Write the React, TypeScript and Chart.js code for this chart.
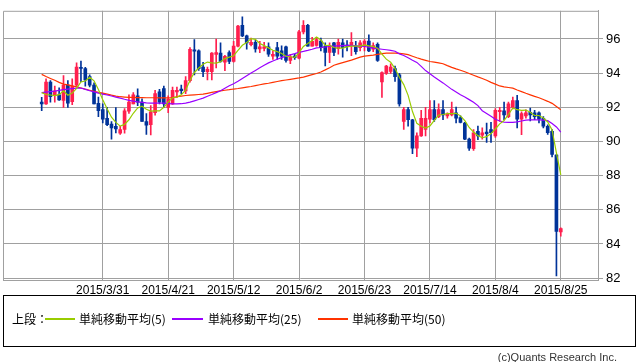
import React, { useEffect, useRef } from 'react';
import { Chart, registerables } from 'chart.js';

Chart.register(...registerables);

// x-axis tick labels and the candle index they sit on
const dateLabels = ['2015/3/31', '2015/4/21', '2015/5/12', '2015/6/2', '2015/6/23', '2015/7/14', '2015/8/4', '2015/8/25'];
const dateLabelIndex = [14, 29, 44, 59, 74, 89, 104, 119];
const yTicks = [82, 84, 86, 88, 90, 92, 94, 96];

// daily candles (2015/3/11 .. 2015/8/25, weekdays)
const open = [
  92.3, 92.2, 93.48, 92.73, 92.73, 92.4, 93.3, 92.33, 93.29, 94.34,
  94.27, 93.8, 93.3, 92.24, 91.86, 91.36, 91.02, 90.89, 90.48, 90.7,
  91.77, 92.2, 92.67, 92.3, 91.17, 90.98, 91.68, 92.9, 93.1, 92.0,
  92.2, 92.9, 93.07, 92.96, 93.56, 95.36, 95.3, 94.36, 94.08, 94.08,
  95.1, 95.17, 94.64, 95.2, 94.68, 95.58, 96.8, 96.18, 95.67, 95.8,
  95.42, 95.45, 95.54, 95.0, 95.5, 95.3, 95.54, 94.75, 95.0, 94.87,
  96.42, 96.8, 95.58, 95.62, 95.87, 95.58, 95.21, 95.77, 95.43, 95.77,
  95.64, 95.62, 95.58, 95.49, 95.58, 95.87, 95.4, 95.68, 93.48, 93.99,
  94.1, 94.27, 93.9, 91.17, 91.87, 91.27, 89.61, 90.33, 90.7, 91.3,
  91.87, 91.45, 91.87, 91.49, 91.55, 91.68, 91.4, 91.08, 90.14, 89.58,
  90.6, 90.37, 90.55, 90.7, 90.33, 91.74, 91.79, 91.45, 92.0, 92.4,
  91.3, 91.5, 91.7, 91.68, 91.68, 91.36, 90.89, 90.6, 89.2, 84.7,
];
const high = [
  92.58, 93.67, 93.56, 93.24, 93.14, 93.86, 93.56, 93.67, 94.6, 94.7,
  94.34, 93.9, 93.43, 92.6, 92.2, 92.0, 91.17, 91.98, 90.89, 91.92,
  92.73, 92.86, 93.08, 92.5, 91.64, 92.1, 93.0, 93.05, 93.24, 92.67,
  93.18, 93.18, 93.3, 93.8, 95.5, 95.97, 95.36, 94.64, 94.36, 95.2,
  96.0, 95.77, 95.05, 95.3, 95.86, 96.8, 97.3, 96.23, 96.05, 95.92,
  95.86, 95.8, 95.77, 95.3, 95.8, 95.6, 95.58, 95.1, 95.1, 96.5,
  97.08, 96.86, 96.1, 96.09, 96.05, 95.77, 95.77, 95.81, 96.0, 96.0,
  95.9, 96.37, 95.86, 95.9, 95.96, 96.24, 95.77, 95.77, 94.08, 94.46,
  94.55, 94.42, 93.99, 92.0, 92.0, 91.3, 90.51, 91.83, 92.0, 92.39,
  92.39, 92.2, 92.39, 91.68, 92.3, 92.02, 91.5, 91.12, 90.2, 90.7,
  90.9, 90.8, 91.08, 91.12, 91.92, 92.0, 92.3, 92.3, 92.6, 92.7,
  91.74, 91.85, 91.95, 91.83, 91.74, 91.45, 90.98, 90.7, 89.25, 84.95,
];
const low = [
  91.8, 92.17, 92.3, 92.3, 92.4, 92.0, 92.0, 92.15, 93.24, 93.5,
  93.24, 93.2, 92.2, 91.45, 91.08, 90.93, 90.14, 90.5, 90.42, 90.48,
  91.64, 92.2, 92.1, 91.17, 90.42, 90.38, 91.54, 92.2, 92.0, 91.68,
  92.17, 92.58, 92.8, 92.8, 93.47, 93.9, 94.16, 93.8, 93.6, 93.6,
  94.3, 94.64, 94.15, 94.55, 94.64, 95.54, 96.14, 95.4, 95.6, 95.23,
  95.2, 95.3, 94.98, 94.8, 94.8, 94.8, 94.64, 94.55, 94.8, 94.83,
  96.3, 95.58, 95.58, 95.58, 95.3, 94.42, 94.61, 95.02, 95.11, 94.93,
  95.3, 95.02, 95.11, 95.3, 95.3, 95.25, 95.25, 94.68, 92.58, 93.93,
  93.99, 93.52, 92.06, 90.7, 90.9, 89.29, 89.11, 90.3, 90.33, 91.08,
  91.17, 91.4, 91.27, 91.36, 91.49, 91.08, 91.08, 90.1, 89.48, 89.48,
  90.1, 90.14, 89.95, 89.95, 90.23, 91.17, 91.27, 91.4, 91.9, 90.8,
  90.4, 91.36, 91.2, 91.27, 91.08, 90.8, 90.42, 89.1, 82.13, 84.45,
];
const close = [
  92.2, 93.48, 92.62, 92.96, 92.43, 93.3, 92.24, 93.24, 94.36, 94.27,
  93.61, 93.3, 92.2, 91.8, 91.3, 90.98, 90.8, 90.74, 90.7, 91.79,
  92.3, 92.73, 92.3, 91.17, 90.95, 91.73, 92.8, 92.3, 92.2, 92.48,
  93.0, 93.0, 92.98, 93.56, 95.4, 95.28, 94.26, 94.08, 94.23, 95.17,
  95.2, 94.68, 94.98, 94.68, 95.58, 96.75, 96.18, 95.77, 95.8, 95.42,
  95.54, 95.54, 95.11, 95.1, 95.0, 95.0, 94.74, 94.95, 94.9, 96.42,
  96.8, 95.58, 95.86, 95.96, 95.49, 95.21, 95.62, 95.21, 95.81, 95.49,
  95.56, 95.81, 95.25, 95.77, 95.87, 95.3, 95.62, 94.74, 94.04, 94.42,
  94.36, 93.8, 92.2, 91.87, 91.27, 89.61, 90.33, 91.36, 91.36, 91.87,
  91.27, 91.87, 91.55, 91.6, 91.87, 91.36, 91.12, 90.14, 89.61, 90.51,
  90.33, 90.51, 90.45, 90.51, 91.83, 91.83, 91.55, 92.2, 92.4, 91.3,
  91.64, 91.68, 91.55, 91.45, 91.3, 90.89, 90.51, 89.24, 84.73, 84.9,
];

// moving averages
const ma5 = [
  92.86, 92.75, 92.72, 92.68, 92.74, 92.96, 92.71, 92.83, 93.11, 93.48,
  93.54, 93.76, 93.55, 93.04, 92.44, 91.92, 91.42, 91.12, 90.9, 91.0,
  91.27, 91.65, 91.96, 92.06, 91.89, 91.78, 91.79, 91.79, 92.0, 92.3,
  92.56, 92.6, 92.73, 93.0, 93.59, 94.04, 94.3, 94.52, 94.65, 94.6,
  94.59, 94.67, 94.85, 94.94, 95.02, 95.33, 95.63, 95.79, 96.02, 95.98,
  95.74, 95.61, 95.48, 95.34, 95.26, 95.15, 94.99, 94.96, 94.92, 95.2,
  95.56, 95.73, 95.91, 96.12, 95.94, 95.62, 95.63, 95.5, 95.47, 95.47,
  95.54, 95.58, 95.58, 95.58, 95.65, 95.6, 95.56, 95.46, 95.11, 94.82,
  94.64, 94.27, 93.76, 93.33, 92.7, 91.75, 91.06, 90.89, 90.79, 90.91,
  91.24, 91.55, 91.58, 91.63, 91.63, 91.65, 91.5, 91.22, 90.82, 90.55,
  90.34, 90.22, 90.28, 90.46, 90.73, 91.03, 91.23, 91.58, 91.96, 91.86,
  91.82, 91.84, 91.71, 91.52, 91.52, 91.37, 91.14, 90.68, 89.33, 88.05,
];
const ma25 = [
  92.86, 92.89, 92.92, 92.95, 92.99, 93.03, 93.06, 93.09, 93.12, 93.13,
  93.05, 92.97, 92.9, 92.83, 92.77, 92.72, 92.66, 92.6, 92.54, 92.47,
  92.41, 92.36, 92.32, 92.29, 92.26, 92.25, 92.25, 92.24, 92.24, 92.22,
  92.2, 92.2, 92.21, 92.25, 92.3, 92.38, 92.46, 92.54, 92.65, 92.75,
  92.86, 92.97, 93.12, 93.26, 93.38, 93.52, 93.69, 93.85, 94.01, 94.16,
  94.31, 94.46, 94.6, 94.71, 94.81, 94.91, 95.0, 95.07, 95.14, 95.22,
  95.27, 95.33, 95.4, 95.48, 95.5, 95.53, 95.56, 95.58, 95.6, 95.61,
  95.62, 95.62, 95.6, 95.58, 95.56, 95.52, 95.47, 95.43, 95.4, 95.37,
  95.33, 95.28, 95.13, 95.03, 94.9, 94.76, 94.63, 94.4, 94.15, 93.96,
  93.77, 93.6, 93.43, 93.24, 93.05, 92.9, 92.73, 92.6, 92.45, 92.3,
  92.1, 91.8, 91.64, 91.48, 91.3, 91.2, 91.13, 91.12, 91.12, 91.15,
  91.2, 91.25, 91.27, 91.27, 91.27, 91.25, 91.22, 91.05, 90.85, 90.55,
];
const ma50 = [
  93.93, 93.8, 93.69, 93.58, 93.46, 93.36, 93.31, 93.25, 93.2, 93.13,
  93.06, 93.0, 92.94, 92.88, 92.83, 92.77, 92.71, 92.66, 92.62, 92.6,
  92.58, 92.58, 92.57, 92.57, 92.56, 92.56, 92.56, 92.55, 92.55, 92.55,
  92.57, 92.62, 92.66, 92.69, 92.71, 92.73, 92.75, 92.77, 92.82, 92.87,
  92.92, 92.96, 93.0, 93.03, 93.07, 93.1, 93.14, 93.18, 93.22, 93.27,
  93.32, 93.37, 93.41, 93.46, 93.51, 93.56, 93.6, 93.64, 93.68, 93.72,
  93.77, 93.84, 93.91, 93.98, 94.07, 94.19, 94.32, 94.46, 94.54, 94.62,
  94.69, 94.76, 94.85, 94.94, 95.0, 95.03, 95.06, 95.1, 95.14, 95.17,
  95.17, 95.17, 95.16, 95.13, 95.08, 94.99, 94.9, 94.82, 94.75, 94.68,
  94.64, 94.6, 94.55, 94.44, 94.34, 94.25, 94.17, 94.08, 93.98, 93.88,
  93.78, 93.69, 93.58, 93.46, 93.36, 93.25, 93.2, 93.16, 93.12, 93.01,
  92.92, 92.82, 92.73, 92.64, 92.56, 92.46, 92.35, 92.23, 92.05, 91.85,
];

const UP = '#ff1f4e';
const DOWN = '#003399';
const GRID = '#a0a0a0';
const C5 = '#99cc00';
const C25 = '#9900ff';
const C50 = '#ff3300';

const framePlugin = {
  id: 'frame',
  beforeDatasetsDraw(chart: any) {
    const { ctx, chartArea } = chart;
    ctx.save();
    ctx.strokeStyle = GRID;
    ctx.lineWidth = 1;
    ctx.beginPath();
    ctx.moveTo(chartArea.left + 0.5, chartArea.bottom);
    ctx.lineTo(chartArea.left + 0.5, chartArea.top + 0.5);
    ctx.lineTo(chartArea.right, chartArea.top + 0.5);
    ctx.stroke();
    ctx.restore();
  },
};

export default function App() {
  const ref = useRef<HTMLCanvasElement>(null);

  useEffect(() => {
    const canvas = ref.current;
    if (!canvas) return;
    const idx = close.map((_, i) => i);
    const colors = idx.map((i) => (close[i] >= open[i] ? UP : DOWN));
    const line = (arr: number[], color: string) => ({
      type: 'line' as const,
      data: arr.map((v, i) => ({ x: i, y: v })),
      borderColor: color,
      backgroundColor: color,
      borderWidth: 1.2,
      pointRadius: 0,
      tension: 0,
      order: 0,
    });

    const chart = new Chart(canvas, {
      type: 'bar',
      data: {
        datasets: [
          line(ma5, C5),
          line(ma25, C25),
          line(ma50, C50),
          {
            type: 'bar',
            data: idx.map((i) => ({ x: i, y: [open[i], close[i]] })) as any,
            backgroundColor: colors,
            borderWidth: 0,
            barThickness: 3,
            minBarLength: 1,
            grouped: false,
            order: 1,
          } as any,
          {
            type: 'bar',
            data: idx.map((i) => ({ x: i, y: [low[i], high[i]] })) as any,
            backgroundColor: colors,
            borderWidth: 0,
            barThickness: 1,
            grouped: false,
            order: 2,
          } as any,
        ],
      },
      options: {
        responsive: false,
        devicePixelRatio: 1,
        animation: false,
        events: [],
        layout: { padding: { left: 3, top: 0, right: 0, bottom: 0 } },
        plugins: { legend: { display: false }, tooltip: { enabled: false } },
        scales: {
          x: {
            type: 'linear',
            min: -8.87,
            max: 127.53,
            offset: false,
            grid: { color: GRID, drawTicks: false, offset: false },
            border: { display: true, color: GRID },
            ticks: {
              autoSkip: false,
              maxRotation: 0,
              padding: 3,
              color: '#000',
              font: { family: 'Liberation Sans', size: 12 },
              callback: (_v: any, i: number) => dateLabels[i],
            },
            afterBuildTicks: (scale: any) => {
              scale.ticks = dateLabelIndex.map((v) => ({ value: v }));
            },
            afterFit: (scale: any) => {
              scale.height = 16;
            },
          },
          y: {
            type: 'linear',
            position: 'right',
            min: 81.89,
            max: 97.65,
            grid: { color: GRID, tickLength: 5 },
            border: { display: true, color: GRID },
            ticks: {
              padding: 3,
              color: '#000',
              font: { family: 'Liberation Sans', size: 13 },
            },
            afterBuildTicks: (scale: any) => {
              scale.ticks = yTicks.map((v) => ({ value: v }));
            },
            afterFit: (scale: any) => {
              scale.width = 40;
            },
          },
        },
      } as any,
      plugins: [framePlugin],
    });
    return () => chart.destroy();
  }, []);

  const legendFont = "'Noto Sans CJK JP', 'Noto Sans', sans-serif";
  const txt = (left: number, s: string) => (
    <div
      style={{
        position: 'absolute',
        left,
        top: 311,
        height: 16,
        lineHeight: '16px',
        fontSize: 12,
        fontFamily: legendFont,
        color: '#000',
        whiteSpace: 'nowrap',
      }}
    >
      {s}
    </div>
  );
  const swatch = (left: number, width: number, color: string) => (
    <div style={{ position: 'absolute', left, top: 318, width, height: 2, backgroundColor: color }} />
  );

  return (
    <div style={{ position: 'absolute', left: 0, top: 0, width: 638, height: 362, background: '#fff', overflow: 'hidden' }}>
      <canvas ref={ref} width={638} height={296} style={{ position: 'absolute', left: 0, top: 0, width: 638, height: 296 }} />
      <div style={{ position: 'absolute', left: 3, top: 295, width: 631, height: 50, border: '1px solid #000' }} />
      {txt(12, '上段：')}
      {swatch(45, 30, C5)}
      {txt(79, '単純移動平均(5)')}
      {swatch(172, 31, C25)}
      {txt(208, '単純移動平均(25)')}
      {swatch(318, 30, C50)}
      {txt(352, '単純移動平均(50)')}
      <div
        style={{
          position: 'absolute',
          right: 21,
          top: 350,
          height: 14,
          lineHeight: '14px',
          fontSize: 11,
          fontFamily: "'Liberation Sans', sans-serif",
          color: '#333',
          whiteSpace: 'nowrap',
        }}
      >
        (c)Quants Research Inc.
      </div>
    </div>
  );
}
